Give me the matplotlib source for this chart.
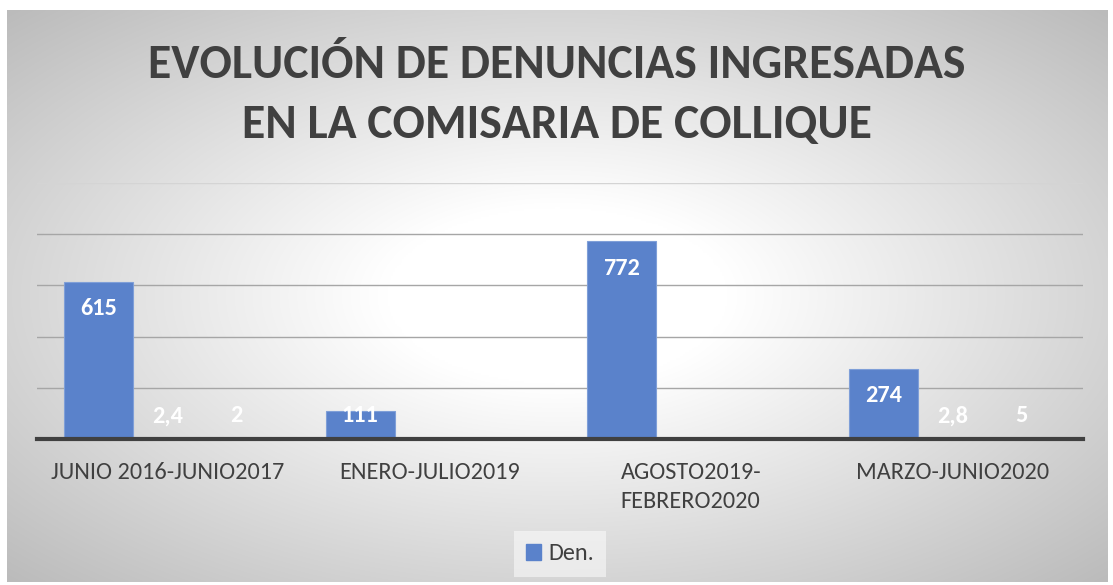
import matplotlib.pyplot as plt
import numpy as np
from matplotlib.patches import Patch

# data
categories = ['JUNIO 2016-JUNIO2017', 'ENERO-JULIO2019', 'AGOSTO2019-\nFEBRERO2020', 'MARZO-JUNIO2020']
den = [615, 111, 772, 274]
serie2 = [2.4, np.nan, np.nan, 2.8]
serie3 = [2, np.nan, np.nan, 5]
labels2 = ['2,4', '', '', '2,8']
labels3 = ['2', '', '', '5']

FONT = ['Carlito', 'DejaVu Sans']
TXT = '#404040'
BLUE = '#5a82cb'
plt.rcParams['font.family'] = FONT

W, H = 1113, 585
fig = plt.figure(figsize=(W / 100, H / 100), dpi=100)

# radial gradient background of the chart area
bg = fig.add_axes([7 / W, 1 - 582 / H, (1108 - 7) / W, (582 - 10) / H])
yy, xx = np.mgrid[-1:1:300j, -1:1:600j]
r = np.sqrt(xx ** 2 + yy ** 2) / np.sqrt(2)
v = 255 - 68 * np.clip((r - 0.22) / 0.78, 0, 1)
img = np.dstack([v, v, v]) / 255
bg.imshow(img, aspect='auto', extent=[0, 1, 0, 1], interpolation='bilinear')
bg.set_axis_off()

ax = fig.add_axes([37 / W, 1 - 439 / H, (1083 - 37) / W, (439 - 183) / H])
ax.patch.set_alpha(0)

x = np.arange(len(categories))
bw = 0.264
ax.bar(x - bw, den, bw, color=BLUE, edgecolor='#7f9fd8', linewidth=0.8, zorder=3)
ax.bar(x, serie2, bw, color='white', zorder=3)
ax.bar(x + bw, serie3, bw, color='white', zorder=3)

def lab_y(val):
    return max(val - 105, 90)

for i in range(len(categories)):
    ax.text(x[i] - bw, lab_y(den[i]), str(den[i]), ha='center', va='center',
            color='white', fontsize=17.5, fontweight='bold', zorder=5)
    if labels2[i]:
        ax.text(x[i], lab_y(serie2[i]), labels2[i], ha='center', va='center',
                color='white', fontsize=17.5, fontweight='bold', zorder=5)
    if labels3[i]:
        ax.text(x[i] + bw, lab_y(serie3[i]), labels3[i], ha='center', va='center',
                color='white', fontsize=17.5, fontweight='bold', zorder=5)

ax.set_xlim(-0.5, 3.5)
ax.set_ylim(0, 1000)
ax.set_yticks([0, 200, 400, 600, 800, 1000])
ax.yaxis.grid(True, color='#a6a6a6', linewidth=1.0, zorder=0)
ax.get_ygridlines()[-1].set_color('#d4d4d4')
ax.tick_params(axis='y', left=False, labelleft=False)
ax.tick_params(axis='x', bottom=False, pad=13)
ax.set_xticks(x)
ax.set_xticklabels(categories, fontsize=17.5, color=TXT, linespacing=1.45, va='top')
for s in ['top', 'right', 'left']:
    ax.spines[s].set_visible(False)
ax.spines['bottom'].set_color('#404040')
ax.spines['bottom'].set_linewidth(3)
ax.spines['bottom'].set_zorder(4)

fig.text(0.5, 1 - 78 / H, 'EVOLUCIÓN DE DENUNCIAS INGRESADAS', ha='center', va='baseline',
         fontsize=34.4, fontweight='bold', color=TXT)
fig.text(0.5, 1 - 138 / H, 'EN LA COMISARIA DE COLLIQUE', ha='center', va='baseline',
         fontsize=34.4, fontweight='bold', color=TXT)

leg = fig.legend(handles=[Patch(color=BLUE, label='Den.')], loc='center',
                 bbox_to_anchor=(560 / W, 1 - 554 / H), frameon=True,
                 handlelength=0.6, handleheight=0.6, handletextpad=0.3,
                 borderpad=0.5, prop={'size': 17.5})
leg.get_frame().set_facecolor('white')
leg.get_frame().set_alpha(0.5)
leg.get_frame().set_edgecolor('none')
leg.get_frame().set_boxstyle('square', pad=0)
for t in leg.get_texts():
    t.set_color(TXT)

fig.savefig('out.png', dpi=100)
